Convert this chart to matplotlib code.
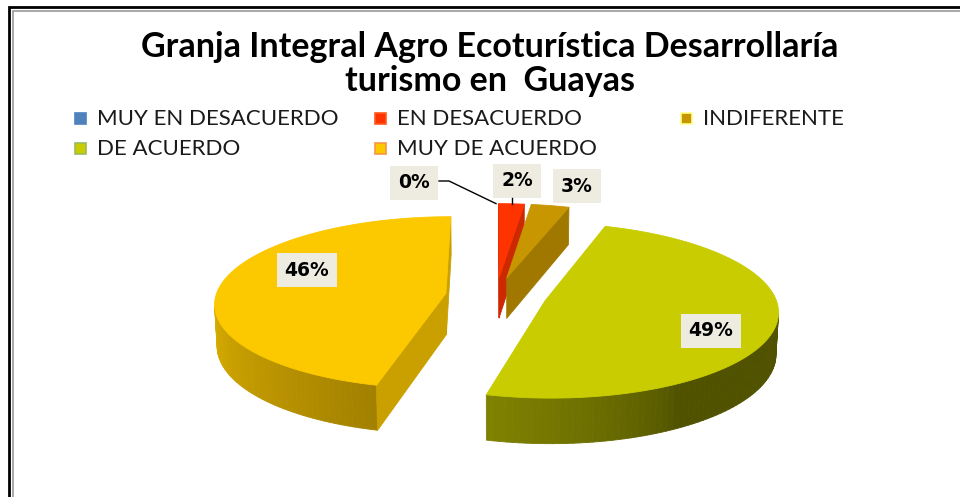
import numpy as np
import matplotlib
matplotlib.use('Agg')
import matplotlib.pyplot as plt
from matplotlib.patches import Polygon, Rectangle
from matplotlib.colors import to_rgb

# ---------------- data ----------------
categories = ['MUY EN DESACUERDO', 'EN DESACUERDO', 'INDIFERENTE', 'DE ACUERDO', 'MUY DE ACUERDO']
values = [0, 2, 3, 49, 46]
labels = ['0%', '2%', '3%', '49%', '46%']
title_lines = ['Granja Integral Agro Ecoturística Desarrollaría', 'turismo en  Guayas']

# ---------------- style ----------------
top_colors = ['#4F81BD', '#FF3300', '#C89600', '#C8CC00', '#FCC800']
legend_edges = ['#4F81BD', '#FF5A1E', '#FFFF88', '#9BBB59', '#F79646']
label_xy = [(414, 183), (517, 181), (577, 186), (711, 331), (307, 270)]

W, H = 960, 497
CX, CY = 496, 337          # pie centre on screen (px)
SCALE = 228                # px per radius at centre depth
PHI = np.radians(23)       # elevation
DIST = 8.6                 # camera distance (radii)
THICK = 0.195              # pie thickness (radii)
EXPLODE = 0.22

fig = plt.figure(figsize=(W / 100, H / 100), dpi=100)
ax = fig.add_axes([0, 0, 1, 1])
ax.set_xlim(0, W)
ax.set_ylim(H, 0)
ax.axis('off')

cam = np.array([0.0, DIST * np.sin(PHI), -DIST * np.cos(PHI)])


def project(X, Y, Z):
    w = DIST + Z * np.cos(PHI) - Y * np.sin(PHI)
    u = Y * np.cos(PHI) + Z * np.sin(PHI)
    f = SCALE * DIST / w
    return CX + f * X, CY - f * u


def draw(pts3, color, z=2):
    xy = [project(*p) for p in pts3]
    ax.add_patch(Polygon(xy, closed=True, facecolor=color, edgecolor=color,
                         lw=0.6, zorder=z, joinstyle='round'))


def wall_intensity(deg):
    deg = deg % 360
    s = np.clip((deg - 150) / 120.0, 0, 1) ** 0.7
    return 0.40 + 0.48 * s


def shade(rgb, k):
    return tuple(np.clip(np.array(rgb) * k, 0, 1))


total = float(sum(values))
slices = []
start = 0.0
for v in values:
    span = v / total * 2 * np.pi
    slices.append((start, start + span))
    start += span

order = sorted(range(len(values)), key=lambda i: -np.cos(sum(slices[i]) / 2))
zbase = 2
for i in order:
    a0, a1 = slices[i]
    if values[i] <= 0:
        continue
    mid = (a0 + a1) / 2
    ox, oz = EXPLODE * np.sin(mid), EXPLODE * np.cos(mid)
    n = max(3, int(np.degrees(a1 - a0) / 1.5) + 2)
    ang = np.linspace(a0, a1, n)
    rx = ox + np.sin(ang)
    rz = oz + np.cos(ang)
    base = to_rgb(top_colors[i])
    # outer wall
    for j in range(n - 1):
        am = (ang[j] + ang[j + 1]) / 2
        nrm = np.array([np.sin(am), 0, np.cos(am)])
        P = np.array([(rx[j] + rx[j + 1]) / 2, THICK / 2, (rz[j] + rz[j + 1]) / 2])
        if nrm @ (cam - P) > 0:
            quad = [(rx[j], 0, rz[j]), (rx[j + 1], 0, rz[j + 1]),
                    (rx[j + 1], THICK, rz[j + 1]), (rx[j], THICK, rz[j])]
            draw(quad, shade(base, wall_intensity(np.degrees(am))), zbase)
    # radial faces
    for a, nrm in ((a0, np.array([-np.cos(a0), 0, np.sin(a0)])),
                   (a1, np.array([np.cos(a1), 0, -np.sin(a1)]))):
        ex, ez = ox + np.sin(a), oz + np.cos(a)
        P = np.array([(ox + ex) / 2, THICK / 2, (oz + ez) / 2])
        if nrm @ (cam - P) > 0:
            quad = [(ox, 0, oz), (ex, 0, ez), (ex, THICK, ez), (ox, THICK, oz)]
            draw(quad, shade(base, 0.80), zbase)
    # top face
    topf = [(ox, THICK, oz)] + [(rx[j], THICK, rz[j]) for j in range(n)]
    draw(topf, base, zbase + 0.5)
    zbase += 1

# ---------------- data labels ----------------
for i in range(len(values)):
    x, y = label_xy[i]
    ax.text(x, y, labels[i], ha='center', va='center', fontsize=13.5,
            fontweight='bold', family='DejaVu Sans', color='#000000', zorder=20,
            bbox=dict(boxstyle='square,pad=0.42', facecolor='#EEECE1', edgecolor='none'))

# leader line for 0%
a_zero = slices[0][0]
ex0, ey0 = project(EXPLODE * np.sin(a_zero) + np.sin(a_zero), THICK,
                   EXPLODE * np.cos(a_zero) + np.cos(a_zero))
ax.plot([439, 449, ex0], [181, 181, ey0], color='black', lw=1.0, zorder=21)
# tick for 2%
m1 = sum(slices[1]) / 2
ex1, ey1 = project(EXPLODE * np.sin(m1) + np.sin(m1), THICK,
                   EXPLODE * np.cos(m1) + np.cos(m1))
ax.plot([ex1, ex1], [198, ey1], color='black', lw=1.0, zorder=21)

# ---------------- title ----------------
ax.text(490, 47, title_lines[0], ha='center', va='center', fontsize=24.5,
        fontweight='bold', family='Lato', color='black')
ax.text(490, 81, title_lines[1], ha='center', va='center', fontsize=24.5,
        fontweight='bold', family='Lato', color='black')

# ---------------- legend ----------------
leg_pos = [(80, 118), (380, 118), (686, 118), (80, 148), (380, 148)]
for i, cat in enumerate(categories):
    mx, my = leg_pos[i]
    ax.add_patch(Rectangle((mx - 5.5, my - 5.5), 11, 11, facecolor=top_colors[i],
                           edgecolor=legend_edges[i], lw=1.2, zorder=10))
    ax.text(mx + 17, my + 1, cat, ha='left', va='center', fontsize=16,
            family='Lato', color='#1a1a1a')

# ---------------- frame ----------------
ax.plot([8.5, 8.5, W], [H, 7, 7], color='black', lw=2.0, solid_joinstyle='miter', zorder=30)
ax.plot([12.5, 12.5, W], [H, 10.5, 10.5], color='#999999', lw=1.2, solid_joinstyle='miter', zorder=30)

fig.savefig('out.png', dpi=100, facecolor='white')
